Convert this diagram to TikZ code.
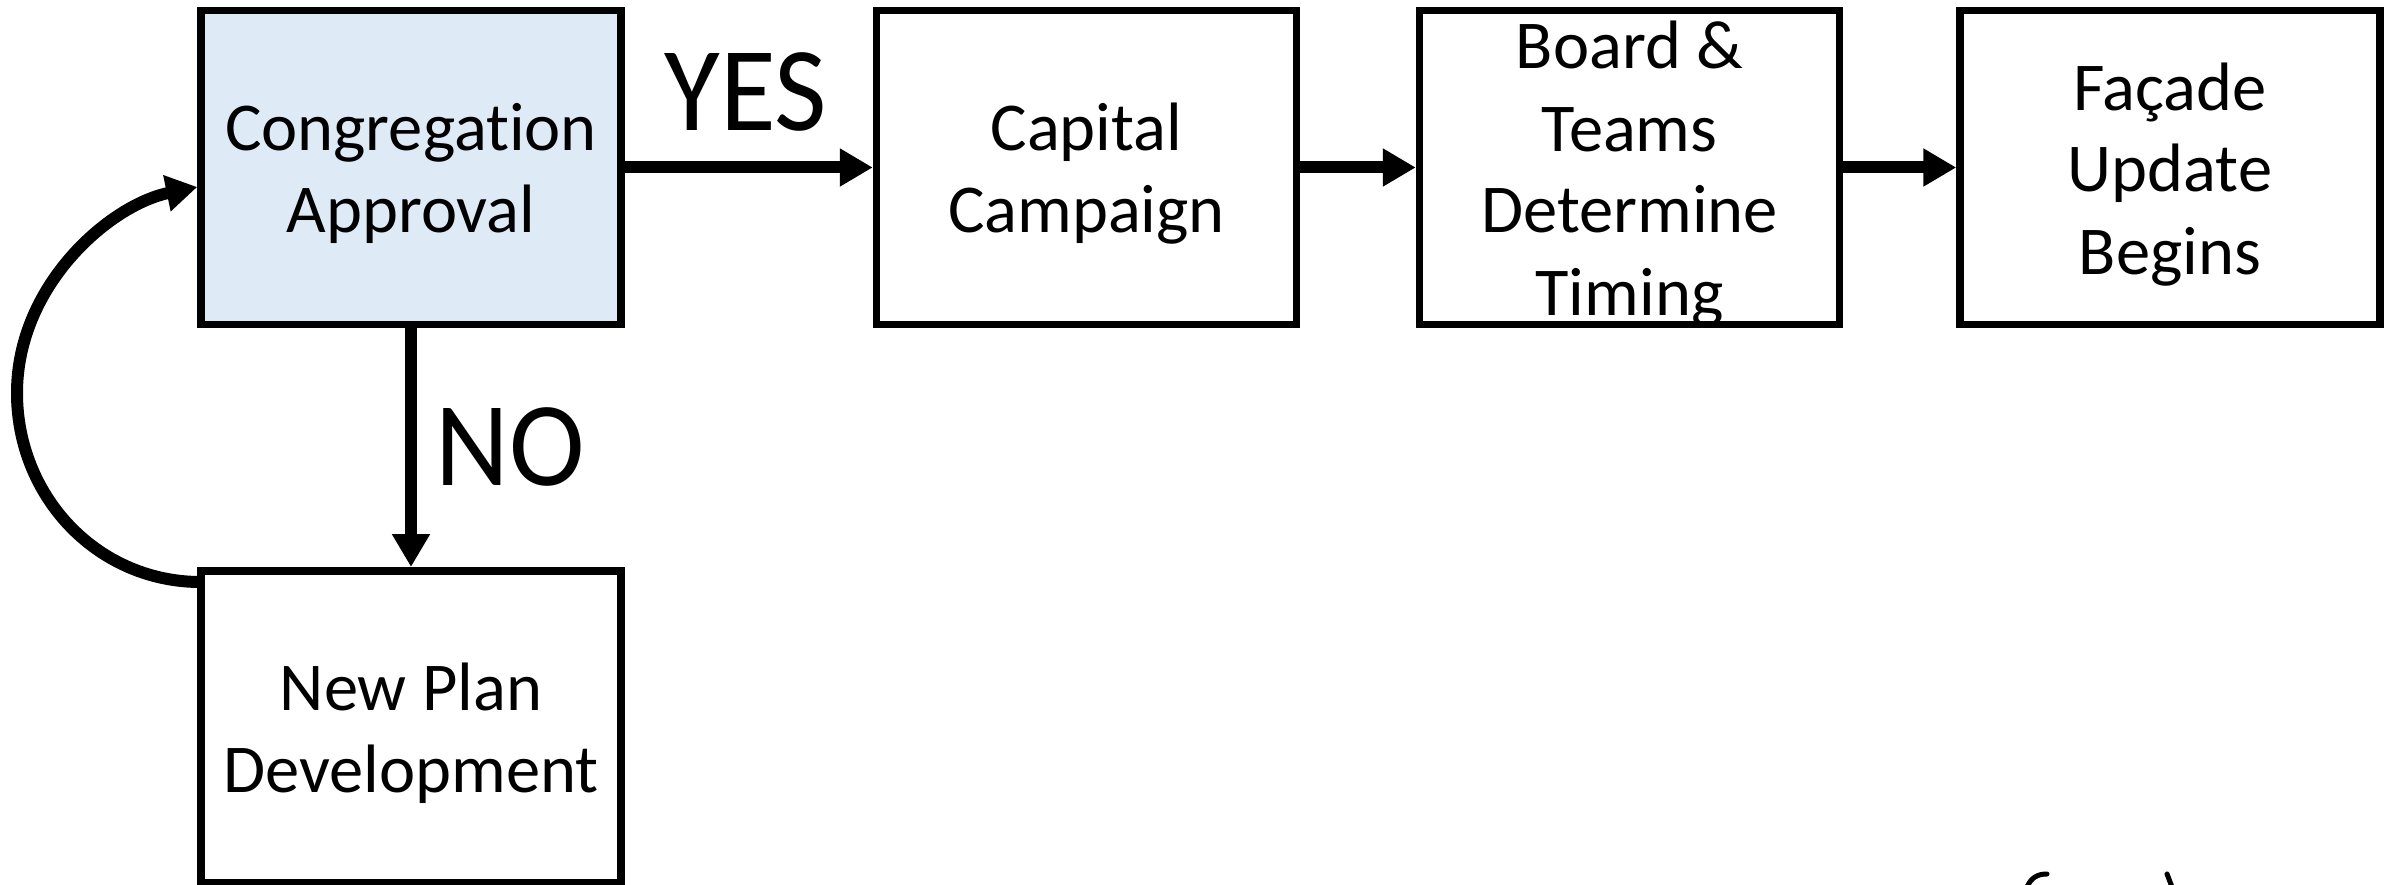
\documentclass[tikz,border=0pt]{standalone}
\usepackage{fontspec}
\setmainfont{Carlito}[Ligatures=NoCommon]
\newfontfamily\lightfont{Carlito}[Ligatures=NoCommon, FakeBold=-0.6]
\usetikzlibrary{arrows.meta}
\definecolor{lightblue}{HTML}{DEEBF7}
\tikzset{
  box/.style={draw=black, line width=7.5pt, minimum width=420pt, minimum height=313.5pt, inner sep=0pt},
  boxtext/.style={align=center, inner sep=0pt, anchor=base, font=\fontsize{68.5}{82}\selectfont},
  lbl/.style={inner sep=0pt, anchor=base, font=\lightfont\fontsize{120}{140}\selectfont, xscale=0.95},
  conn/.style={line width=12pt, -{Triangle[length=33pt,width=36pt]}},
  loopconn/.style={line width=12pt, -{Triangle[length=31pt,width=35pt]}},
  strokemark/.style={line width=5pt, line cap=round}
}
\begin{document}
\begin{tikzpicture}[x=1pt, y=-1pt]
\useasboundingbox (0,0) rectangle (2392,885);
% boxes
\node[box, fill=lightblue] (cong) at (411,167.5) {};
\node[box] (cap) at (1086.5,167.5) {};
\node[box] (board) at (1629.5,167.5) {};
\node[box] (fac) at (2170,167.5) {};
\node[box, minimum height=311.5pt] (npd) at (411,726.5) {};
% texts
\node[boxtext] (congT) at (411,233) {Congregation\\Approval};
\node[boxtext] (capT) at (1086.5,233) {Capital\\Campaign};
\node[boxtext] (boardT) at (1629.5,315) {Board \&\\Teams\\Determine\\Timing};
\node[boxtext] (facT) at (2170,274) {Façade\\Update\\Begins};
\node[boxtext] (npdT) at (411,792) {New Plan\\Development};
% labels
\node[lbl] (yes) at (746,131) {YES};
\node[lbl] (no) at (510,485) {NO};
% connectors
\draw[conn] (cong.east) -- (cap.west);
\draw[conn] (cap.east) -- (board.west);
\draw[conn] (board.east) -- (fac.west);
\draw[conn] (cong.south) -- (npd.north);
\draw[loopconn] ([yshift=-15pt]npd.north west) .. controls (95,580) and (17,495) .. (17,393)
  .. controls (17,285) and (110,205) .. ([yshift=-19.5pt]cong.west);
% stray marks at the bottom edge
\draw[strokemark] (2027,887) .. controls (2031,878) and (2037,874) .. (2047,874);
\draw[strokemark] (2167,874) -- (2172,887);
\end{tikzpicture}
\end{document}
